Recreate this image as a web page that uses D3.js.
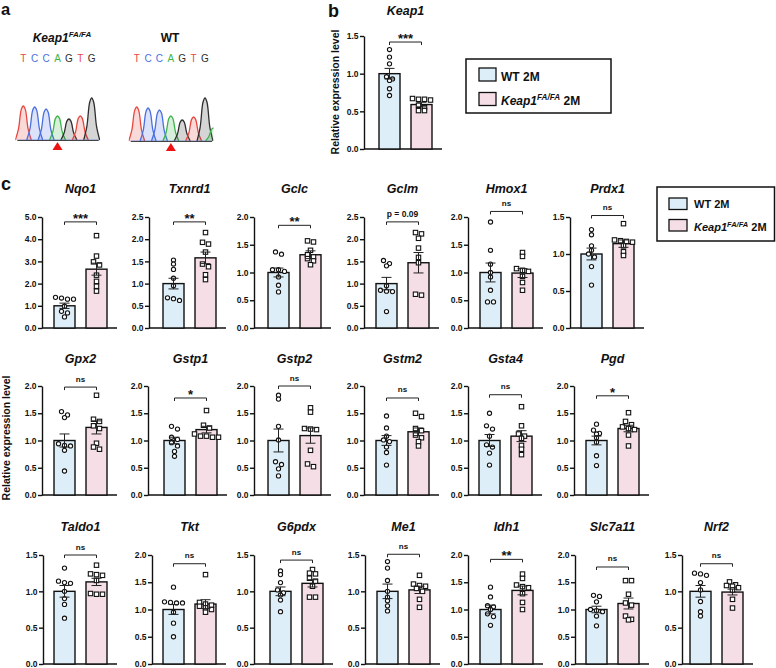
<!DOCTYPE html>
<html><head><meta charset="utf-8">
<script src="https://cdn.jsdelivr.net/npm/d3@7"></script>
<style>
body{margin:0;background:#fff}
svg{display:block}
text{font-family:"Liberation Sans", Arial, Helvetica, sans-serif}
</style>
</head><body>
<svg id="fig" width="776" height="668"></svg>
<script>
// ---------------- DATA ----------------
const groups = ["WT 2M", "Keap1 2M"];
const seqBases = ["T","C","C","A","G","T","G"];
const peaksMutant = [34, 33, 31, 24, 21, 24, 42];     // relative signal of each peak
const peaksWT     = [34, 33, 31, 25, 21, 24, 43];
const trailingWT  = ["A", 13];

// panel b
const keap1WT = [1.32, 1.22, 1.13, 0.96, 0.93, 0.91, 0.80, 0.71];
const keap1KO = [0.66, 0.66, 0.65, 0.67, 0.58, 0.55, 0.51, 0.51];
const keap1Mean = [1.00, 0.59];
const keap1Sem = [0.07, 0.03];
const keap1Sig = ["***", 1.42];

// panel c
const genes = ["Nqo1","Txnrd1","Gclc","Gclm","Hmox1","Prdx1",
               "Gpx2","Gstp1","Gstp2","Gstm2","Gsta4","Pgd",
               "Taldo1","Tkt","G6pdx","Me1","Idh1","Slc7a11","Nrf2"];
const yMax  = [5.0,2.5,2.0,2.5,2.0,1.5, 2.0,2.0,2.0,2.0,2.0,2.0, 1.5,2.0,1.5,1.5,2.0,2.0,1.5];
const yStep = [1.0,0.5,0.5,0.5,0.5,0.5, 0.5,0.5,0.5,0.5,0.5,0.5, 0.5,0.5,0.5,0.5,0.5,0.5,0.5];
const wtMean = [1,1,1,1,1,1, 1,1,1,1,1,1, 1,1,1,1,1,1,1];
const wtSem  = [0.12,0.12,0.08,0.14,0.17,0.08, 0.12,0.06,0.21,0.09,0.11,0.08, 0.08,0.09,0.06,0.10,0.08,0.06,0.08];
const koMean = [2.65,1.58,1.32,1.47,0.99,1.14, 1.24,1.20,1.09,1.16,1.08,1.22, 1.13,1.10,1.11,1.02,1.35,1.11,0.99];
const koSem  = [0.27,0.13,0.07,0.23,0.08,0.05, 0.12,0.06,0.14,0.07,0.10,0.06, 0.05,0.08,0.05,0.05,0.08,0.10,0.04];
const sigText  = ["***","**","**","p = 0.09","ns","ns", "ns","*","ns","ns","ns","*", "ns","ns","ns","ns","**","ns","ns"];
const sigLevel = [4.78,2.39,1.85,2.39,2.10,1.52, 1.98,1.78,2.00,1.78,1.84,1.82, 1.50,1.84,1.43,1.51,1.92,1.78,1.38];
const wtPts = [
  [1.35,1.30,1.38,1.30,0.98,0.75,0.68,0.50],
  [1.53,1.44,1.32,1.12,0.95,0.68,0.62,0.66],
  [1.37,1.33,1.05,1.02,1.05,0.92,0.77,0.65],
  [1.52,1.45,1.40,0.95,0.83,0.82,0.85,0.37],
  [1.91,1.40,1.15,1.00,0.92,0.68,0.47,0.47],
  [1.33,1.26,1.11,1.05,1.00,0.96,0.83,0.58],
  [1.53,1.47,1.42,0.94,0.91,0.90,0.82,0.44],
  [1.26,1.21,1.06,1.02,0.96,0.90,0.80,0.71],
  [1.83,1.76,1.26,1.01,0.61,0.56,0.48,0.35],
  [1.45,1.23,1.08,1.01,0.98,0.88,0.78,0.55],
  [1.50,1.27,1.21,1.08,0.92,0.88,0.77,0.55],
  [1.30,1.19,1.12,1.13,1.05,0.97,0.72,0.54],
  [1.32,1.14,1.12,1.11,1.00,0.90,0.82,0.63],
  [1.41,1.14,1.12,1.12,1.13,0.95,0.75,0.50],
  [1.28,1.23,1.12,1.02,0.98,0.95,0.88,0.72],
  [1.41,1.32,1.15,1.00,0.92,0.87,0.80,0.73],
  [1.41,1.23,1.07,1.05,1.00,0.92,0.87,0.71],
  [1.26,1.24,1.14,1.00,0.98,0.96,0.88,0.70],
  [1.25,1.22,1.24,1.12,1.02,0.86,0.72,0.66]
];
const koPts = [
  [4.16,3.24,2.98,2.84,2.38,2.10,1.88,1.66],
  [2.15,1.93,1.89,1.71,1.44,1.38,1.20,1.09],
  [1.57,1.55,1.40,1.32,1.28,1.25,1.21,1.14],
  [2.15,2.12,2.02,1.80,1.59,1.47,0.76,0.74],
  [1.36,1.29,1.07,1.04,1.02,0.93,0.82,0.68],
  [1.41,1.19,1.18,1.17,1.16,1.11,1.03,0.98],
  [1.83,1.39,1.35,1.27,1.22,0.95,0.88,0.84],
  [1.55,1.28,1.23,1.12,1.08,1.08,1.06,1.06],
  [1.60,1.52,1.22,1.21,1.20,0.82,0.57,0.52],
  [1.50,1.44,1.22,1.18,1.10,1.05,0.98,0.90],
  [1.62,1.27,1.12,1.08,1.04,0.91,0.84,0.74],
  [1.51,1.35,1.29,1.25,1.22,1.20,1.10,0.90],
  [1.36,1.24,1.23,1.22,1.15,0.97,0.96,0.96],
  [1.64,1.13,1.10,1.08,1.06,1.03,1.00,0.95],
  [1.30,1.25,1.24,1.18,1.14,1.07,0.92,0.92],
  [1.22,1.10,1.08,1.07,1.04,1.00,0.89,0.78],
  [1.65,1.57,1.45,1.42,1.40,1.29,1.13,1.00],
  [1.53,1.53,1.28,1.12,1.08,0.88,0.82,0.81],
  [1.13,1.09,1.08,1.07,1.05,1.02,0.89,0.77]
];

// ---------------- LAYOUT (not data) ----------------
const panelAxisX = [42,149,254,364,468,570, 42,148,254,364,468,574, 43,152,254,365,468,575,682];
const panelBarX  = [54,163,268,376,480,581, 54,164,268,376,479,586, 54,163,270,377,480,586,690];
const panelRow   = [0,0,0,0,0,0, 1,1,1,1,1,1, 2,2,2,2,2,2,2];
const rowTop     = [217, 386, 555];
const rowBottom  = [328, 495, 664];
const rowTitleY  = [193, 363, 531];

const FILL = ["#ddeef9", "#f6dee7"];
const baseColor = {T:"#e8473f", C:"#4a70e0", A:"#3cb54a", G:"#2e2e2e"};

const svg = d3.select("#fig");

// ---------------- helpers ----------------
function swarm(vals, y, cx, d) {
  const pts = vals.map(v => ({v, y: y(v)})).sort((a,b) => a.y - b.y);
  const gs = []; let cur = [];
  pts.forEach(p => {
    if (cur.length && p.y - cur[0].y > d * 0.6) { gs.push(cur); cur = []; }
    cur.push(p);
  });
  if (cur.length) gs.push(cur);
  gs.forEach(g => g.forEach((p, i) => p.x = cx + (i - (g.length - 1) / 2) * d));
  return pts;
}

function barPanel(o) {
  const g = svg.append("g");
  const y = d3.scaleLinear().domain([0, o.yMax]).range([o.yBottom, o.yTop]);
  const x = d3.scaleBand().domain(groups).range([o.barX, o.barX + 53]).paddingInner(0.34375).paddingOuter(0);
  const ticks = d3.range(0, o.yMax + 1e-9, o.step);
  const ax = g.append("g").attr("transform", `translate(${o.axisX},0)`)
    .call(d3.axisLeft(y).tickValues(ticks).tickFormat(d3.format(".1f")).tickSize(4).tickSizeOuter(0).tickPadding(1.5));
  ax.selectAll("path,line").attr("stroke", "#111").attr("stroke-width", 1.4);
  ax.selectAll("text").attr("font-size", 8.5).attr("font-weight", "bold").attr("fill", "#111")
    .attr("font-family", "'Liberation Sans', Arial, sans-serif");
  // x axis line
  g.append("line").attr("x1", o.axisX).attr("x2", o.barX + 63).attr("y1", o.yBottom).attr("y2", o.yBottom)
    .attr("stroke", "#111").attr("stroke-width", 1.4);

  const means = o.means, sems = o.sems, sets = [o.wt, o.ko];
  groups.forEach((gr, i) => {
    g.append("rect").attr("x", x(gr)).attr("y", y(means[i])).attr("width", x.bandwidth())
      .attr("height", o.yBottom - y(means[i])).attr("fill", FILL[i]).attr("stroke", "#111").attr("stroke-width", 1.4);
  });
  groups.forEach((gr, i) => {
    const cx = x(gr) + x.bandwidth() / 2;
    const pts = swarm(sets[i], y, cx, 6);
    if (i === 0) {
      g.selectAll(null).data(pts).enter().append("circle")
        .attr("cx", d => d.x).attr("cy", d => d.y).attr("r", 2.1)
        .attr("fill", "#fff").attr("stroke", "#111").attr("stroke-width", 1.1);
    } else {
      g.selectAll(null).data(pts).enter().append("rect")
        .attr("x", d => d.x - 2.2).attr("y", d => d.y - 2.2).attr("width", 4.4).attr("height", 4.4)
        .attr("fill", "#fff").attr("stroke", "#111").attr("stroke-width", 1.1);
    }
    // error bar
    const lo = y(means[i] - sems[i]), hi = y(means[i] + sems[i]);
    const eb = g.append("g").attr("stroke", "#222").attr("stroke-width", 1);
    eb.append("line").attr("x1", cx).attr("x2", cx).attr("y1", lo).attr("y2", hi);
    eb.append("line").attr("x1", cx - 5).attr("x2", cx + 5).attr("y1", lo).attr("y2", lo);
    eb.append("line").attr("x1", cx - 5).attr("x2", cx + 5).attr("y1", hi).attr("y2", hi);
  });
  // significance bracket
  const c0 = x(groups[0]) + x.bandwidth() / 2, c1 = x(groups[1]) + x.bandwidth() / 2;
  const by = y(o.sigY);
  g.append("path").attr("d", `M${c0},${by + 3}V${by}H${c1}V${by + 3}`)
    .attr("fill", "none").attr("stroke", "#222").attr("stroke-width", 1);
  const isStar = o.sig.indexOf("*") >= 0;
  const isNs = o.sig === "ns";
  g.append("text").attr("x", (c0 + c1) / 2).attr("y", isStar ? by + 1 : by - (isNs ? 5.5 : 4.5))
    .attr("text-anchor", "middle").attr("font-weight", "bold")
    .attr("font-size", isStar ? 13 : (isNs ? 8 : 8.5)).attr("fill", "#111").text(o.sig);
  // title
  g.append("text").attr("x", o.barX + 26.5).attr("y", o.titleY).attr("text-anchor", "middle")
    .attr("font-size", 12.5).attr("font-weight", "bold").attr("font-style", "italic").attr("fill", "#111")
    .text(o.title);
}

// ---------------- panel letters ----------------
[["a", 1, 14.5, 16.5], ["b", 328, 16.5, 18], ["c", 1, 190, 18]].forEach(([t, x, yy, fs]) =>
  svg.append("text").attr("x", x).attr("y", yy).attr("font-size", fs).attr("font-weight", "bold").attr("fill", "#111").text(t));

// ---------------- panel a: chromatograms ----------------
function chromatogram(peaks, x0, x1, base, extra) {
  const g = svg.append("g");
  const xs = d3.scalePoint().domain(d3.range(seqBases.length)).range([x0, x1]);
  const step = xs.step();
  const h = d3.scaleLinear().domain([0, 43]).range([0, 43]);
  const list = peaks.map((v, i) => ({b: seqBases[i], v, cx: xs(i)}));
  if (extra) list.push({b: extra[0], v: extra[1], cx: x1 + step * 0.75});
  const clipId = "clip" + Math.round(x0);
  svg.append("clipPath").attr("id", clipId).append("rect").attr("x", x0 - 8).attr("y", 80).attr("width", x1 - x0 + 16.5).attr("height", 80);
  const area = d3.area().x(d => d[0]).y0(base).y1(d => d[1]).curve(d3.curveCatmullRom.alpha(0.5));
  const line = d3.line().x(d => d[0]).y(d => d[1]).curve(d3.curveCatmullRom.alpha(0.5));
  const pg = g.append("g").attr("clip-path", `url(#${clipId})`);
  list.forEach(p => {
    const w = 8, hh = h(p.v);
    const pts = [[p.cx - w, base], [p.cx - w * 0.6, base - hh * 0.33], [p.cx - w * 0.25, base - hh * 0.9],
                 [p.cx, base - hh], [p.cx + w * 0.25, base - hh * 0.9], [p.cx + w * 0.6, base - hh * 0.33], [p.cx + w, base]];
    pg.append("path").attr("d", area(pts)).attr("fill", baseColor[p.b]).attr("fill-opacity", 0.2);
    pg.append("path").attr("d", line(pts)).attr("fill", "none").attr("stroke", baseColor[p.b]).attr("stroke-width", 1.3);
  });
  g.append("line").attr("x1", x0 - 6).attr("x2", x1 + 7).attr("y1", base + 0.5).attr("y2", base + 0.5)
    .attr("stroke", "#444").attr("stroke-width", 1);
  g.append("line").attr("x1", x0 - 6).attr("x2", x1 + 7).attr("y1", base - 0.5).attr("y2", base - 0.5)
    .attr("stroke", "#5a7ad0").attr("stroke-width", 0.6).attr("opacity", 0.6);
  // sequence letters
  g.selectAll(null).data(seqBases).enter().append("text")
    .attr("x", (d, i) => xs(i)).attr("y", 61.5).attr("text-anchor", "middle")
    .attr("font-size", 10).attr("fill", d => baseColor[d]).text(d => d);
  // mutation arrow
  const ax = xs(3);
  g.append("path").attr("d", `M${ax},${base + 2}L${ax + 5},${base + 10}L${ax - 5},${base + 10}Z`).attr("fill", "#ee1111");
}
chromatogram(peaksMutant, 23.3, 91.7, 140, null);
chromatogram(peaksWT, 136.7, 205, 141, trailingWT);

const tA = svg.append("text").attr("x", 62).attr("y", 41.5).attr("text-anchor", "middle")
  .attr("font-weight", "bold").attr("font-style", "italic").attr("font-size", 12).attr("fill", "#111");
tA.append("tspan").text("Keap1");
tA.append("tspan").attr("font-size", 8).attr("dy", -4.5).text("FA/FA");
svg.append("text").attr("x", 170).attr("y", 41.5).attr("text-anchor", "middle")
  .attr("font-weight", "bold").attr("font-size", 12).attr("fill", "#111").text("WT");

// ---------------- panel b ----------------
barPanel({axisX: 364, barX: 379, yTop: 36, yBottom: 149, yMax: 1.5, step: 0.5,
  wt: keap1WT, ko: keap1KO, means: keap1Mean, sems: keap1Sem, sig: keap1Sig[0], sigY: keap1Sig[1],
  title: "Keap1", titleY: 15});
svg.append("text").attr("transform", "translate(339,92) rotate(-90)").attr("text-anchor", "middle")
  .attr("font-size", 10.5).attr("font-weight", "bold").attr("fill", "#111").text("Relative expression level");

// ---------------- legends ----------------
function legend(x, y, w, h, fs, sw, sh, rows) {
  const g = svg.append("g");
  g.append("rect").attr("x", x).attr("y", y).attr("width", w).attr("height", h)
    .attr("fill", "#fff").attr("stroke", "#111").attr("stroke-width", 1.5);
  rows.forEach((r, i) => {
    g.append("rect").attr("x", r.sx).attr("y", r.sy).attr("width", sw).attr("height", sh)
      .attr("fill", FILL[i]).attr("stroke", "#111").attr("stroke-width", 1.3);
    const t = g.append("text").attr("x", r.tx).attr("y", r.ty).attr("font-size", fs).attr("font-weight", "bold").attr("fill", "#111");
    if (i === 0) t.text(groups[0]);
    else {
      t.append("tspan").attr("font-style", "italic").text("Keap1");
      t.append("tspan").attr("font-style", "italic").attr("font-size", fs * 0.68).attr("dy", -fs * 0.38).text("FA/FA");
      t.append("tspan").attr("dy", fs * 0.38).text(" 2M");
    }
  });
}
legend(466, 59, 145, 54, 12, 17, 13, [{sx: 479, sy: 68, tx: 501, ty: 81}, {sx: 479, sy: 92.5, tx: 501, ty: 104.5}]);
legend(657, 187, 117.5, 54, 11, 18, 11.5, [{sx: 669, sy: 198, tx: 694, ty: 208}, {sx: 669, sy: 219.5, tx: 694, ty: 231}]);

// ---------------- panel c ----------------
genes.forEach((gname, i) => {
  const r = panelRow[i];
  barPanel({axisX: panelAxisX[i], barX: panelBarX[i], yTop: rowTop[r], yBottom: rowBottom[r],
    yMax: yMax[i], step: yStep[i], wt: wtPts[i], ko: koPts[i],
    means: [wtMean[i], koMean[i]], sems: [wtSem[i], koSem[i]],
    sig: sigText[i], sigY: sigLevel[i], title: gname, titleY: rowTitleY[r]});
});
svg.append("text").attr("transform", "translate(9.5,438) rotate(-90)").attr("text-anchor", "middle")
  .attr("font-size", 10.5).attr("font-weight", "bold").attr("fill", "#111").text("Relative expression level");
</script>
</body></html>
